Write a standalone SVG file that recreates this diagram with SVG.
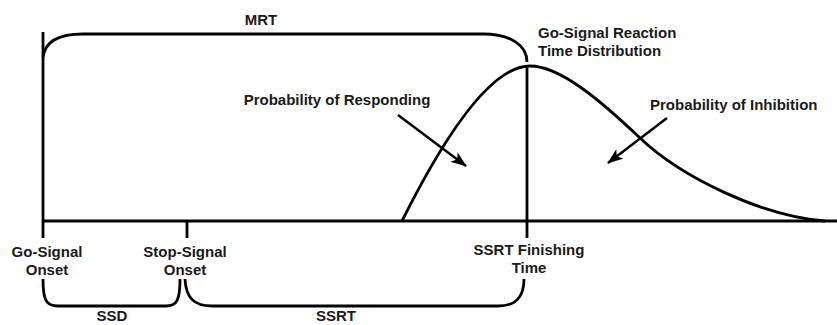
<svg xmlns="http://www.w3.org/2000/svg" width="837" height="325" viewBox="0 0 837 325">
  <style>
    .ln { fill: none; stroke: #000; stroke-width: 2.8; stroke-linecap: butt; }
    .thin { fill: none; stroke: #000; stroke-width: 2.4; }
    .t { font-family: "Liberation Sans", Arial, sans-serif; font-weight: bold; font-size: 15px; fill: #1a1a1a; }
    .c { text-anchor: middle; }
  </style>
  <defs>
    <marker id="ah" markerUnits="userSpaceOnUse" markerWidth="16" markerHeight="12" refX="15" refY="6" orient="auto">
      <path d="M0,0 L16,6 L0,12 L4,6 Z" fill="#000"/>
    </marker>
  </defs>
  <rect width="837" height="325" fill="#fff"/>

  <g id="axis">
    <path class="ln" d="M43,221 L837,221"/>
    <path class="ln" d="M43,32 L43,238"/>
    <path class="ln" d="M187,221 L187,238"/>
    <path class="ln" d="M527,66 L527,238"/>
  </g>

  <g id="distribution">
    <path class="ln" d="M402,221 C420,185 480,66 530,66 C560,66 600,100 640,138 C680,176 760,216 825,221"/>
  </g>

  <g id="mrt">
    <path class="ln" d="M43,57 C45,42 58,34 83,34 L483,34 C510,34 527,45 527,62"/>
    <text class="t c" x="261" y="25">MRT</text>
  </g>

  <g id="labels-top">
    <text class="t" x="538" y="38">Go-Signal Reaction</text>
    <text class="t" x="538" y="56">Time Distribution</text>
    <text class="t c" x="337" y="105">Probability of Responding</text>
    <text class="t" x="650" y="110">Probability of Inhibition</text>
  </g>

  <g id="connectors">
    <path class="thin" d="M398,115 L466,166" marker-end="url(#ah)"/>
    <path class="thin" d="M667,118 L608,163" marker-end="url(#ah)"/>
  </g>

  <g id="labels-bottom">
    <text class="t c" x="47" y="257">Go-Signal</text>
    <text class="t c" x="47" y="275">Onset</text>
    <text class="t c" x="185" y="257">Stop-Signal</text>
    <text class="t c" x="185" y="275">Onset</text>
    <text class="t c" x="529" y="255">SSRT Finishing</text>
    <text class="t c" x="529" y="273">Time</text>
  </g>

  <g id="ssd">
    <path class="ln" d="M43,279 C43,300 46,306 58,306 L166,306 C177,306 180,300 180,279"/>
    <text class="t c" x="112" y="321">SSD</text>
  </g>

  <g id="ssrt">
    <path class="ln" d="M185,279 C186,298 194,306 212,306 L498,306 C515,306 524,298 524,279"/>
    <text class="t c" x="336" y="321">SSRT</text>
  </g>
</svg>
